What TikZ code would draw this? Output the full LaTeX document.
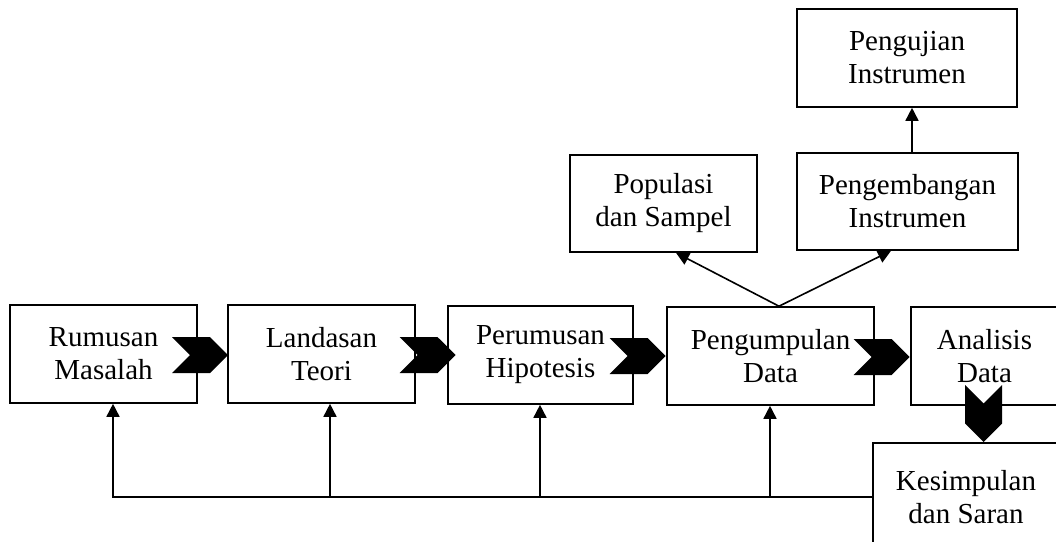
\documentclass[tikz,border=0pt]{standalone}
\usepackage{fontspec}
\setmainfont{Liberation Serif}
\usetikzlibrary{arrows.meta,shapes.symbols}

\begin{document}
\begin{tikzpicture}[x=1pt,y=-1pt,
        kotak/.style={draw,line width=1.6pt,align=center,inner sep=0pt,font=\fontsize{29}{33}\selectfont},
        chev/.style={signal,signal from=west,signal to=east,fill=black,draw=none,inner sep=0pt,minimum width=56pt,minimum height=36pt},
        panah/.style={line width=1.6pt,-{Triangle[length=13pt,width=13pt]}}]
    \useasboundingbox (0,0) rectangle (1056,541);
    \clip (0,0) rectangle (1056,541);
    % kotak utama
    \node[kotak,minimum width=187pt,minimum height=98pt] (rumusan) at (103.5,354) {Rumusan\\Masalah};
    \node[kotak,minimum width=187pt,minimum height=98pt] (landasan) at (321.5,354) {Landasan\\Teori};
    \node[kotak,minimum width=185pt,minimum height=98pt] (perumusan) at (540.5,355) {Perumusan\\Hipotesis};
    \node[kotak,minimum width=207pt,minimum height=98pt] (pengumpulan) at (770.5,356) {Pengumpulan\\Data};
    \node[kotak,minimum width=147pt,minimum height=98pt] (analisis) at (984.5,356) {Analisis\\Data};
    \node[kotak,minimum width=186pt,minimum height=108pt] (kesimpulan) at (966,497) {Kesimpulan\\dan Saran};
    % kotak atas
    \node[kotak,minimum width=187pt,minimum height=97pt] (populasi) at (663.5,203.5) {Populasi\\dan Sampel};
    \node[kotak,minimum width=221pt,minimum height=97pt] (pengembangan) at (907.5,201.5) {Pengembangan\\Instrumen};
    \node[kotak,minimum width=220pt,minimum height=98pt] (pengujian) at (907,58) {Pengujian\\Instrumen};
    % panah tebal
    \node[chev] (c1) at (200,355) {};
    \node[chev] (c2) at (427.5,355) {};
    \node[chev] (c3) at (637.5,356) {};
    \node[chev] (c4) at (881.5,357) {};
    \node[chev,rotate=-90,minimum width=57pt,minimum height=37pt] (c5) at (983.5,413.5) {};
    % panah ke atas
    \draw[panah] ([xshift=8.5pt]pengumpulan.north) -- ([xshift=12.5pt]populasi.south);
    \draw[panah] ([xshift=8.5pt]pengumpulan.north) -- ([xshift=-16.5pt]pengembangan.south);
    \draw[panah] ([xshift=4.5pt]pengembangan.north) -- ([xshift=5pt]pengujian.south);
    % umpan balik
    \draw[panah] (kesimpulan.west) -| ([xshift=9.5pt]rumusan.south);
    \draw[panah] ([xshift=8.5pt]landasan.south |- kesimpulan.west) -- ([xshift=8.5pt]landasan.south);
    \draw[panah] ([xshift=-0.5pt]perumusan.south |- kesimpulan.west) -- ([xshift=-0.5pt]perumusan.south);
    \draw[panah] ([xshift=-0.5pt]pengumpulan.south |- kesimpulan.west) -- ([xshift=-0.5pt]pengumpulan.south);
\end{tikzpicture}
\end{document}
